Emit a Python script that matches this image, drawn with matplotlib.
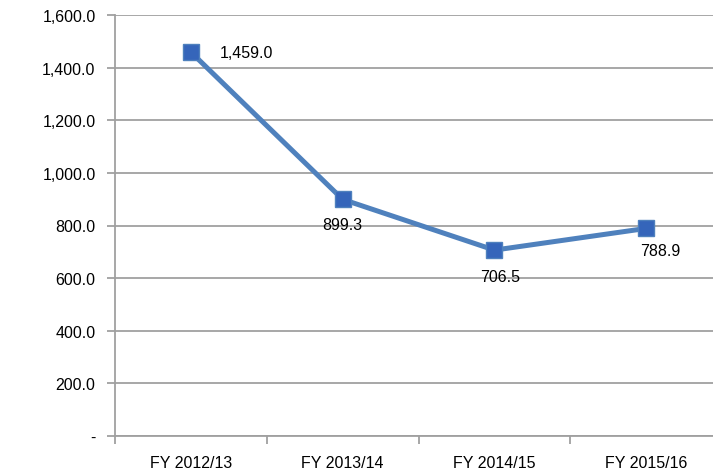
import matplotlib
matplotlib.use('Agg')
import matplotlib.pyplot as plt
from matplotlib.ticker import FuncFormatter

plt.rcParams['font.family'] = ['Liberation Sans', 'DejaVu Sans']

categories = ['FY 2012/13', 'FY 2013/14', 'FY 2014/15', 'FY 2015/16']
values = [1459.0, 899.3, 706.5, 788.9]
label_text = ['1,459.0', '899.3', '706.5', '788.9']
# label offsets in points (dx, dy) relative to each point
label_offsets = [(21, 0), (0, -18), (4, -19), (10, -16)]
label_ha = ['left', 'center', 'center', 'center']

fig = plt.figure(figsize=(7.13, 4.77), dpi=100)
ax = fig.add_axes([115 / 713, 1 - 437 / 477, 1 - 115 / 713, (437 - 16) / 477])

x = list(range(len(categories)))
ax.plot(x, values, color='#4F81BD', lw=3.6, marker='s', markersize=12,
        markerfacecolor='#3565BA', markeredgecolor='#4F81BD', markeredgewidth=1,
        zorder=3, clip_on=False)

for xi, v, t, (dx, dy), ha in zip(x, values, label_text, label_offsets, label_ha):
    ax.annotate(t, (xi, v), xytext=(dx, dy), textcoords='offset points',
                ha=ha, va='center', fontsize=11.5, color='black', zorder=4)

ax.set_yticks(range(0, 1601, 200))


def yfmt(v, pos):
    return '-' if v == 0 else '{:,.1f}'.format(v)


ax.yaxis.set_major_formatter(FuncFormatter(yfmt))
ax.set_xticks(x)
ax.set_xticklabels(categories)
ax.set_xticks([-0.5, 0.5, 1.5, 2.5, 3.5], minor=True)

# limits after ticks, so the tick at 3.5 does not widen the view
ax.set_ylim(0, 1600)
ax.set_xlim(-0.5, 3.44)

ax.grid(axis='y', color='#A0A0A0', lw=1.3)
ax.set_axisbelow(True)
for s in ['top', 'right']:
    ax.spines[s].set_visible(False)
for s in ['left', 'bottom']:
    ax.spines[s].set_color('#A0A0A0')
    ax.spines[s].set_linewidth(1.3)

ax.tick_params(axis='y', length=6, width=1.3, color='#A0A0A0', labelsize=11.5, pad=8)
ax.tick_params(axis='x', which='major', length=0, labelsize=11.5, pad=14)
ax.tick_params(axis='x', which='minor', length=6, width=1.3, color='#A0A0A0')

fig.savefig('out.png', dpi=100)
